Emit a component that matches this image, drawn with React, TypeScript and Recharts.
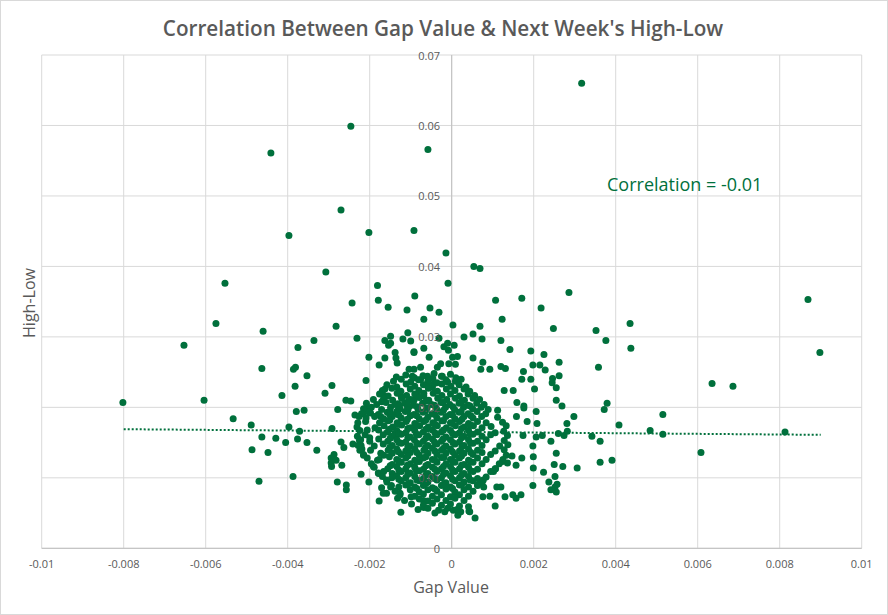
import { ScatterChart, Scatter, XAxis, YAxis, CartesianGrid, ReferenceLine } from 'recharts';

const GREEN = '#00703C';
const TEXT = '#595959';

const gapTicks = [-0.01, -0.008, -0.006, -0.004, -0.002, 0, 0.002, 0.004, 0.006, 0.008, 0.01];
const highLowTicks = [0, 0.01, 0.02, 0.03, 0.04, 0.05, 0.06, 0.07];

// sparse points around the cloud, read one by one: [gap value, high-low]
const outerPoints: [number, number][] = [
  [0.00317, 0.066], [-0.00246, 0.0599], [-0.00441, 0.0561], [-0.00058, 0.0566], [-0.0027, 0.048],
  [-0.00397, 0.0444], [-0.00202, 0.0448], [-0.00092, 0.0451], [-0.00014, 0.0419], [-0.00307, 0.0392],
  [0.00054, 0.04], [0.00069, 0.0397], [-0.00553, 0.0376], [-0.00181, 0.0373], [-0.00009, 0.0376],
  [0.00286, 0.0363], [-0.0009, 0.0358], [-0.00179, 0.0352], [0.00107, 0.0352], [0.00171, 0.0355],
  [-0.00575, 0.0319], [-0.0046, 0.0308], [-0.00653, 0.0288], [-0.00375, 0.0285], [-0.00463, 0.0255],
  [-0.00386, 0.0254], [-0.00381, 0.0257], [-0.00382, 0.023], [-0.00414, 0.0217], [-0.00802, 0.0207],
  [-0.00604, 0.021], [-0.00379, 0.0194], [-0.00533, 0.0184], [-0.00489, 0.0175], [-0.00397, 0.0172],
  [-0.00371, 0.0166], [-0.00463, 0.0158], [-0.00429, 0.0156], [-0.00405, 0.015], [-0.00376, 0.0155],
  [-0.00487, 0.014], [-0.00448, 0.0136], [-0.0047, 0.0095], [-0.00387, 0.0102],
  [0.00869, 0.0353], [0.00898, 0.0278], [0.00352, 0.0309], [0.00435, 0.0319], [0.00376, 0.0295],
  [0.00437, 0.0284], [0.00358, 0.0257], [0.00635, 0.0234], [0.00686, 0.023], [0.00379, 0.0206],
  [0.00372, 0.0197], [0.00515, 0.019], [0.00408, 0.0175], [0.00484, 0.0167], [0.00515, 0.0162],
  [0.00813, 0.0165], [0.00342, 0.0159], [0.00362, 0.0152], [0.00608, 0.0136], [0.00391, 0.0125],
  [0.00362, 0.0122],
  [0.00218, 0.0341], [0.00123, 0.0325], [0.00069, 0.0315], [0.00248, 0.0312], [0.00003, 0.0317],
  [0.0012, 0.0295], [0.00052, 0.0304], [0.00074, 0.0297], [0.0003, 0.03], [0.00142, 0.0282],
  [0.00193, 0.028], [0.00225, 0.0275], [0.00262, 0.0264], [0.00198, 0.026], [0.00215, 0.026],
  [0.00228, 0.0253], [0.00175, 0.0251], [0.00262, 0.0245], [0.00246, 0.0241], [0.00245, 0.0235],
  [0.00255, 0.0228], [0.00171, 0.024], [0.00193, 0.024], [0.00202, 0.0226], [0.00128, 0.0224],
  [0.0015, 0.0224], [0.00093, 0.0254], [0.00071, 0.0254], [0.0012, 0.0258], [0.00131, 0.0255],
  [0.00076, 0.0264], [0.00052, 0.027], [0.00009, 0.0261], [0.00255, 0.021], [0.00269, 0.0202],
  [0.00298, 0.0187], [0.00281, 0.0177], [0.00206, 0.0194], [0.00208, 0.0177], [0.00176, 0.0202],
  [0.00176, 0.0199], [0.00159, 0.0207], [0.00184, 0.018], [0.00158, 0.0187], [0.0026, 0.0163],
  [0.00274, 0.016], [0.00282, 0.0166], [0.00221, 0.016], [0.00206, 0.0158], [0.00174, 0.016],
  [0.00242, 0.0152], [0.00198, 0.0145], [0.00255, 0.0135], [0.00199, 0.013], [0.0025, 0.0119],
  [0.00271, 0.0116], [0.00306, 0.0114], [0.00199, 0.0114], [0.00224, 0.0108], [0.00252, 0.0102],
  [0.00237, 0.0094], [0.00257, 0.0091], [0.00242, 0.0083], [0.00255, 0.008], [0.00252, 0.0087],
  [0.00198, 0.0089], [0.00171, 0.0128], [0.00157, 0.0118], [0.00147, 0.0131], [0.00124, 0.0123],
  [0.00136, 0.0121], [0.0011, 0.0087], [0.0012, 0.0087], [0.00076, 0.0073], [0.00093, 0.0074],
  [0.0013, 0.0073], [0.00149, 0.0076], [0.00157, 0.0071], [0.00169, 0.0076], [0.00106, 0.006],
  [0.00057, 0.0043], [0.00041, 0.0059], [0.00044, 0.0052], [0.00018, 0.0051], [0.00004, 0.0054],
  [0.00015, 0.0047], [0.00022, 0.0052], [0.00042, 0.0053], [0.00077, 0.0097], [0.00071, 0.0094],
  [0.00063, 0.009], [0.00102, 0.0109], [0.00107, 0.0113],
  [-0.00279, 0.0094], [-0.00257, 0.009], [-0.00257, 0.0083], [-0.00294, 0.0121], [-0.00293, 0.0116],
  [-0.00268, 0.0118], [-0.00221, 0.0105], [-0.00202, 0.0094], [-0.00177, 0.0067], [-0.00124, 0.0051],
  [-0.00132, 0.0071], [-0.00099, 0.0073], [-0.00069, 0.0068], [-0.00068, 0.0058], [-0.00041, 0.005],
  [-0.00017, 0.0052], [-0.00159, 0.0078], [-0.00167, 0.0078], [-0.00171, 0.0086],
  [-0.00243, 0.0348], [-0.00155, 0.0342], [-0.00109, 0.0338], [-0.00053, 0.0341], [-0.00031, 0.0335],
  [-0.00068, 0.0325], [-0.00282, 0.0315], [-0.00336, 0.0295], [-0.00231, 0.0298], [-0.00107, 0.0306],
  [-0.00163, 0.0295], [-0.00149, 0.0301], [-0.00154, 0.0288], [-0.00149, 0.0291], [-0.00119, 0.0297],
  [-0.001, 0.0294], [-0.00092, 0.0278], [-0.00138, 0.0278], [-0.00136, 0.027], [-0.00133, 0.0263],
  [-0.00202, 0.0271], [-0.00177, 0.026], [-0.00163, 0.027], [-0.00353, 0.0245], [-0.00309, 0.022],
  [-0.00292, 0.0231], [-0.00209, 0.0238], [-0.00258, 0.021], [-0.00246, 0.0209], [-0.00278, 0.0197],
  [-0.0036, 0.0196], [-0.00236, 0.0189], [-0.00292, 0.017], [-0.00353, 0.015], [-0.00329, 0.0139],
  [-0.0027, 0.0151], [-0.00263, 0.0143], [-0.00241, 0.0148], [-0.00287, 0.0133], [-0.00294, 0.0128],
  [-0.00282, 0.0125], [-0.00221, 0.0146], [-0.00225, 0.0153], [-0.00224, 0.0139], [-0.00215, 0.0132],
  [-0.00214, 0.0193], [-0.00204, 0.0199], [-0.00196, 0.02], [-0.00198, 0.0192], [-0.0021, 0.018],
  [-0.00206, 0.0168], [-0.002, 0.0157], [-0.00171, 0.0208], [-0.00165, 0.0217], [-0.00163, 0.0226],
  [-0.00173, 0.0187], [-0.00151, 0.019], [-0.00133, 0.0195], [-0.00131, 0.0205], [-0.00123, 0.0215],
  [-0.00138, 0.0163], [-0.00135, 0.016], [-0.00181, 0.0125], [-0.00173, 0.0135], [-0.00191, 0.0116],
  [-0.00178, 0.0106], [-0.00159, 0.0097], [-0.00149, 0.0087], [-0.00126, 0.0078], [-0.00108, 0.0201],
  [-0.00092, 0.021], [-0.00084, 0.0218], [-0.00068, 0.022], [-0.00076, 0.0239], [-0.00059, 0.0244],
  [-0.00043, 0.0248], [-0.00035, 0.0257], [-0.00027, 0.0262], [-0.00096, 0.0244], [-0.00076, 0.0257],
  [-0.00092, 0.0254], [-0.00059, 0.0234], [-0.00043, 0.0234], [-0.00023, 0.0244], [-0.0001, 0.0236],
  [-0.00007, 0.0262], [0.00002, 0.0271], [-0.00008, 0.0281], [0.00014, 0.0272], [0.00006, 0.0288],
  [-0.00055, 0.0271], [-0.00104, 0.0254], [-0.00068, 0.0284], [-0.00092, 0.0279], [-0.00031, 0.0298],
  [-0.00019, 0.0286], [-0.0001, 0.0291],
];

// the dense middle of the cloud, estimated row by row from top to bottom
const clusterPoints: [number, number][] = [
  [-0.00135, 0.0243], [-0.00112, 0.0246], [-0.00091, 0.0242], [-0.0007, 0.0245], [-0.00046, 0.0241], [-0.00025, 0.0244], [-0.00003, 0.0247], [0.0001, 0.0242],
  [-0.00142, 0.0237], [-0.00123, 0.024], [-0.001, 0.0236], [-0.00081, 0.0239], [-0.00058, 0.0238], [-0.00036, 0.0235], [-0.00014, 0.0239], [0.00009, 0.0237], [0.00023, 0.024],
  [-0.00158, 0.0232], [-0.00134, 0.0229], [-0.00111, 0.0233], [-0.0009, 0.023], [-0.00069, 0.0232], [-0.00047, 0.0229], [-0.00024, 0.0233], [-0.00002, 0.023], [0.00018, 0.0232], [0.00035, 0.0229],
  [-0.00169, 0.0224], [-0.00146, 0.0227], [-0.00124, 0.0223], [-0.00101, 0.0226], [-0.0008, 0.0224], [-0.00057, 0.0227], [-0.00035, 0.0223], [-0.00013, 0.0226], [0.00008, 0.0224], [0.0003, 0.0226], [0.00044, 0.0223],
  [-0.00176, 0.0219], [-0.00155, 0.0216], [-0.00133, 0.022], [-0.0011, 0.0217], [-0.0009, 0.0219], [-0.00068, 0.0216], [-0.00045, 0.022], [-0.00024, 0.0217], [-0.00003, 0.0219], [0.00019, 0.0216], [0.0004, 0.0219], [0.00056, 0.0217],
  [-0.00191, 0.0211], [-0.00166, 0.0213], [-0.00144, 0.021], [-0.00122, 0.0213], [-0.001, 0.0211], [-0.00079, 0.0214], [-0.00056, 0.021], [-0.00034, 0.0213], [-0.00012, 0.0211], [0.00009, 0.0213], [0.00031, 0.021], [0.00052, 0.0213], [0.00068, 0.0211],
  [-0.00208, 0.0206], [-0.00183, 0.0204], [-0.0016, 0.0207], [-0.00138, 0.0204], [-0.00115, 0.0206], [-0.00093, 0.0203], [-0.00071, 0.0206], [-0.00049, 0.0204], [-0.00026, 0.0207], [-0.00005, 0.0204], [0.00018, 0.0206], [0.0004, 0.0203], [0.00061, 0.0206], [0.00079, 0.0204],
  [-0.00215, 0.0198], [-0.00171, 0.0197], [-0.00149, 0.02], [-0.00126, 0.0198], [-0.00104, 0.0201], [-0.00082, 0.0197], [-0.0006, 0.0199], [-0.00037, 0.0198], [-0.00015, 0.02], [0.00007, 0.0197], [0.00029, 0.02], [0.00051, 0.0198], [0.00072, 0.02], [0.00089, 0.0197],
  [-0.0022, 0.0191], [-0.00201, 0.0193], [-0.00179, 0.019], [-0.00157, 0.0193], [-0.00136, 0.0191], [-0.00113, 0.0194], [-0.00092, 0.019], [-0.0007, 0.0193], [-0.00048, 0.0191], [-0.00026, 0.0193], [-0.00004, 0.019], [0.00018, 0.0193], [0.0004, 0.0191], [0.00062, 0.0194], [0.00083, 0.0191], [0.00112, 0.0196],
  [-0.00226, 0.0187], [-0.00209, 0.0185], [-0.00188, 0.0187], [-0.00166, 0.0184], [-0.00145, 0.0187], [-0.00123, 0.0185], [-0.00101, 0.0188], [-0.00079, 0.0184], [-0.00058, 0.0186], [-0.00036, 0.0185], [-0.00014, 0.0187], [0.00008, 0.0184], [0.0003, 0.0187], [0.00052, 0.0185], [0.00073, 0.0187], [0.00112, 0.0186],
  [-0.00229, 0.0178], [-0.00176, 0.0178], [-0.00155, 0.0181], [-0.00133, 0.0178], [-0.00111, 0.018], [-0.0009, 0.0177], [-0.00068, 0.018], [-0.00046, 0.0178], [-0.00024, 0.0181], [-0.00003, 0.0178], [0.00019, 0.018], [0.00041, 0.0177], [0.00063, 0.018], [0.00084, 0.0178], [0.00124, 0.0179],
  [-0.00231, 0.0172], [-0.00187, 0.0171], [-0.00165, 0.0174], [-0.00144, 0.0172], [-0.00122, 0.0175], [-0.001, 0.0171], [-0.00078, 0.0174], [-0.00057, 0.0172], [-0.00035, 0.0174], [-0.00013, 0.0171], [0.00009, 0.0174], [0.00031, 0.0172], [0.00053, 0.0174], [0.00074, 0.0171], [0.00096, 0.0173], [0.00133, 0.0174],
  [-0.00224, 0.0167], [-0.00178, 0.0168], [-0.00156, 0.0165], [-0.00134, 0.0167], [-0.00112, 0.0164], [-0.0009, 0.0167], [-0.00069, 0.0165], [-0.00047, 0.0168], [-0.00025, 0.0165], [-0.00003, 0.0167], [0.00019, 0.0164], [0.00041, 0.0167], [0.00063, 0.0165], [0.00106, 0.0164], [0.00127, 0.0166],
  [-0.0023, 0.0159], [-0.00211, 0.0161], [-0.00167, 0.0161], [-0.00145, 0.0159], [-0.00123, 0.0162], [-0.00101, 0.0158], [-0.0008, 0.0161], [-0.00058, 0.0159], [-0.00036, 0.0161], [-0.00014, 0.0158], [0.00008, 0.0161], [0.0003, 0.0159], [0.00052, 0.0162], [0.00074, 0.0159], [0.00095, 0.0161], [0.00136, 0.016],
  [-0.00222, 0.0154], [-0.002, 0.0152], [-0.00178, 0.0155], [-0.00156, 0.0152], [-0.00134, 0.0154], [-0.00112, 0.0151], [-0.00091, 0.0154], [-0.00069, 0.0152], [-0.00047, 0.0155], [-0.00025, 0.0152], [-0.00003, 0.0154], [0.00019, 0.0151], [0.00041, 0.0154], [0.00063, 0.0152], [0.00084, 0.0154], [0.00128, 0.0153],
  [-0.00228, 0.0146], [-0.00189, 0.0145], [-0.00167, 0.0148], [-0.00145, 0.0146], [-0.00123, 0.0149], [-0.00101, 0.0145], [-0.00079, 0.0148], [-0.00058, 0.0146], [-0.00036, 0.0148], [-0.00014, 0.0145], [0.00008, 0.0148], [0.0003, 0.0146], [0.00052, 0.0149], [0.00074, 0.0146], [0.00117, 0.0145], [0.00137, 0.0147],
  [-0.00219, 0.0141], [-0.00198, 0.0139], [-0.00155, 0.0139], [-0.00134, 0.0141], [-0.00112, 0.0138], [-0.0009, 0.0141], [-0.00068, 0.0139], [-0.00047, 0.0142], [-0.00025, 0.0139], [-0.00003, 0.0141], [0.00019, 0.0138], [0.00041, 0.0141], [0.00063, 0.0139], [0.00106, 0.0138], [0.00128, 0.014],
  [-0.00215, 0.0133], [-0.00166, 0.0132], [-0.00145, 0.0135], [-0.00123, 0.0133], [-0.00101, 0.0136], [-0.00079, 0.0132], [-0.00058, 0.0135], [-0.00036, 0.0133], [-0.00014, 0.0135], [0.00008, 0.0132], [0.0003, 0.0135], [0.00052, 0.0133], [0.00074, 0.0136], [0.00095, 0.0133], [0.00133, 0.0132],
  [-0.00206, 0.0128], [-0.00177, 0.0126], [-0.00134, 0.0126], [-0.00112, 0.0128], [-0.0009, 0.0125], [-0.00069, 0.0128], [-0.00047, 0.0126], [-0.00025, 0.0129], [-0.00003, 0.0126], [0.00019, 0.0128], [0.00041, 0.0125], [0.00063, 0.0128], [0.00084, 0.0126], [0.00125, 0.0126],
  [-0.00196, 0.012], [-0.00145, 0.0119], [-0.00123, 0.0122], [-0.00101, 0.012], [-0.00079, 0.0123], [-0.00058, 0.0119], [-0.00036, 0.0122], [-0.00014, 0.012], [0.00008, 0.0122], [0.0003, 0.0119], [0.00052, 0.0122], [0.00074, 0.012], [0.00116, 0.012],
  [-0.00189, 0.0115], [-0.00156, 0.0113], [-0.00134, 0.0116], [-0.00112, 0.0113], [-0.0009, 0.0115], [-0.00069, 0.0112], [-0.00047, 0.0115], [-0.00025, 0.0113], [-0.00003, 0.0116], [0.00019, 0.0113], [0.00041, 0.0115], [0.00063, 0.0112], [0.00106, 0.0113],
  [-0.00179, 0.0107], [-0.00166, 0.0109], [-0.00145, 0.0106], [-0.00123, 0.0109], [-0.00101, 0.0107], [-0.00079, 0.011], [-0.00058, 0.0106], [-0.00036, 0.0109], [-0.00014, 0.0107], [0.00008, 0.0109], [0.0003, 0.0106], [0.00052, 0.0109], [0.00095, 0.0109],
  [-0.00169, 0.0102], [-0.00146, 0.01], [-0.00134, 0.0103], [-0.00112, 0.01], [-0.0009, 0.0102], [-0.00069, 0.0099], [-0.00047, 0.0102], [-0.00025, 0.01], [-0.00003, 0.0103], [0.00019, 0.01], [0.00041, 0.0102], [0.00063, 0.0099], [0.00084, 0.0101],
  [-0.00158, 0.0094], [-0.00123, 0.0096], [-0.00101, 0.0093], [-0.00079, 0.0096], [-0.00058, 0.0094], [-0.00036, 0.0097], [-0.00014, 0.0093], [0.00008, 0.0096], [0.0003, 0.0094], [0.00052, 0.0096], [0.00074, 0.0093],
  [-0.00147, 0.0089], [-0.00129, 0.0087], [-0.00112, 0.009], [-0.0009, 0.0087], [-0.00069, 0.0089], [-0.00047, 0.0086], [-0.00025, 0.0089], [-0.00003, 0.0087], [0.00019, 0.009], [0.00041, 0.0087], [0.00063, 0.0089], [0.00078, 0.0087],
  [-0.00138, 0.0081], [-0.00101, 0.0083], [-0.00079, 0.008], [-0.00058, 0.0083], [-0.00036, 0.0081], [-0.00014, 0.0084], [0.00008, 0.008], [0.0003, 0.0083], [0.00052, 0.0081],
  [-0.00126, 0.0076], [-0.0009, 0.0074], [-0.00069, 0.0077], [-0.00047, 0.0074], [-0.00025, 0.0076], [-0.00003, 0.0073], [0.00019, 0.0076], [0.00041, 0.0074],
  [-0.00115, 0.0068], [-0.00079, 0.007], [-0.00058, 0.0067], [-0.00036, 0.007], [-0.00014, 0.0068], [0.00008, 0.0071], [0.0003, 0.0068],
  [-0.00098, 0.0063], [-0.00069, 0.0061], [-0.00047, 0.0064], [-0.00025, 0.0061], [-0.00003, 0.0063], [0.00019, 0.006],
  [-0.00082, 0.0055], [-0.00058, 0.0057], [-0.00032, 0.0054], [-0.0001, 0.0057], [0.00013, 0.0055],
];

// the solid heart of the cloud (a little left of zero), between the rows above
const corePoints: [number, number][] = [
  [-0.00107, 0.0208], [-0.00062, 0.0209], [-0.00021, 0.0207], [0.00024, 0.0208],
  [-0.00128, 0.0202], [-0.00084, 0.0201], [-0.00042, 0.0203], [0.00003, 0.0201], [0.00045, 0.0202],
  [-0.0015, 0.0195], [-0.00107, 0.0196], [-0.00064, 0.0195], [-0.0002, 0.0196], [0.00023, 0.0194],
  [-0.00129, 0.0189], [-0.00085, 0.0188], [-0.00041, 0.019], [0.00002, 0.0189], [0.00047, 0.0188],
  [-0.00151, 0.0182], [-0.00108, 0.0183], [-0.00063, 0.0182], [-0.0002, 0.0181], [0.00025, 0.0183],
  [-0.0013, 0.0176], [-0.00086, 0.0175], [-0.00041, 0.0176], [0.00001, 0.0177], [0.00046, 0.0175],
  [-0.00152, 0.0169], [-0.00107, 0.017], [-0.00063, 0.0169], [-0.0002, 0.0168], [0.00024, 0.017],
  [-0.00129, 0.0163], [-0.00086, 0.0162], [-0.00041, 0.0164], [0.00002, 0.0163], [0.00045, 0.0162],
  [-0.0015, 0.0156], [-0.00107, 0.0157], [-0.00063, 0.0156], [-0.00021, 0.0155], [0.00024, 0.0157],
  [-0.00129, 0.015], [-0.00085, 0.0149], [-0.00042, 0.0151], [0.00003, 0.015], [0.00046, 0.0149],
  [-0.00151, 0.0143], [-0.00107, 0.0144], [-0.00064, 0.0143], [-0.0002, 0.0142], [0.00025, 0.0144],
  [-0.0013, 0.0137], [-0.00085, 0.0136], [-0.00041, 0.0138], [0.00002, 0.0137], [0.00047, 0.0136],
  [-0.00152, 0.013], [-0.00107, 0.0131], [-0.00063, 0.013], [-0.00019, 0.0129], [0.00024, 0.0131],
  [-0.00129, 0.0124], [-0.00085, 0.0123], [-0.00041, 0.0125], [0.00002, 0.0124], [0.00045, 0.0123],
  [-0.0015, 0.0117], [-0.00108, 0.0118], [-0.00063, 0.0117], [-0.0002, 0.0116], [0.00024, 0.0118],
  [-0.00129, 0.0111], [-0.00086, 0.011], [-0.00041, 0.0112], [0.00002, 0.0111], [0.00046, 0.011],
  [-0.00107, 0.0105], [-0.00063, 0.0104], [-0.0002, 0.0105], [0.00024, 0.0104],
  [-0.00129, 0.0098], [-0.00085, 0.0097], [-0.00042, 0.0099], [0.00002, 0.0098], [0.00045, 0.0097],
  [-0.00107, 0.0091], [-0.00063, 0.0092], [-0.0002, 0.0091], [0.00024, 0.009],
  [-0.00085, 0.0085], [-0.00041, 0.0084], [0.00002, 0.0085],
];

// linear trendline end points
const trendPoints: [number, number][] = [[-0.008, 0.0169], [0.009, 0.0161]];

const toRows = (pts: [number, number][]) => pts.map(([gap, hl]) => ({ gap, hl }));
const scatterData = toRows([...outerPoints, ...clusterPoints, ...corePoints]);
const trendData = toRows(trendPoints);

const FONT = "'Open Sans', 'Noto Sans', sans-serif";
const CHART_W = 886;
const CHART_H = 613;
const MARGIN = { top: 54, right: 25.3, bottom: 35.7, left: 39.7 };

const Dot = (props: any) => <circle cx={props.cx} cy={props.cy} r={3.5} fill={GREEN} />;

const YTick = (props: any) => (
  <text
    x={439}
    y={props.y}
    textAnchor="end"
    dominantBaseline="central"
    fill={TEXT}
    fillOpacity={props.hidden ? 0 : 1}
    fontSize={11}
    fontFamily={FONT}
  >
    {props.payload.value}
  </text>
);

const XTick = (props: any) => (
  <text x={props.x} y={562} textAnchor="middle" dominantBaseline="central" fill={TEXT} fontSize={11} fontFamily={FONT}>
    {props.payload.value}
  </text>
);

const abs = (left: number, top: number): React.CSSProperties => ({
  position: 'absolute',
  left,
  top,
  transform: 'translate(-50%, -50%)',
  whiteSpace: 'nowrap',
  lineHeight: 1,
  fontFamily: FONT,
});

const valueAxis = (hidden: boolean) => (
  <YAxis
    type="number"
    dataKey="hl"
    domain={[0, 0.07]}
    ticks={highLowTicks}
    width={1}
    tickLine={false}
    axisLine={false}
    tick={<YTick hidden={hidden} />}
    interval={0}
    allowDataOverflow
  />
);

export default function App() {
  return (
    <div
      style={{
        position: 'absolute',
        left: 0,
        top: 0,
        width: 888,
        height: 615,
        boxSizing: 'border-box',
        border: '1px solid #d9d9d9',
        background: '#fff',
      }}
    >
      <ScatterChart width={CHART_W} height={CHART_H} margin={MARGIN}>
        <CartesianGrid stroke="#d9d9d9" />
        <XAxis
          type="number"
          dataKey="gap"
          domain={[-0.01, 0.01]}
          ticks={gapTicks}
          height={30}
          tickLine={false}
          axisLine={{ stroke: '#bfbfbf' }}
          tick={<XTick />}
          allowDataOverflow
        />
        {valueAxis(true)}
        <ReferenceLine x={0} stroke="#bfbfbf" />
        <Scatter data={scatterData} shape={<Dot />} isAnimationActive={false} />
        <Scatter
          data={trendData}
          line={{ stroke: GREEN, strokeWidth: 2, strokeDasharray: '2 2' }}
          shape={() => <g />}
          isAnimationActive={false}
        />
      </ScatterChart>

      {/* second, empty chart on top: only the y labels, so they sit over the points like in Excel */}
      <div style={{ position: 'absolute', left: 0, top: 0, pointerEvents: 'none', zIndex: 2 }}>
        <ScatterChart width={CHART_W} height={CHART_H} margin={MARGIN}>
          <XAxis type="number" dataKey="gap" domain={[-0.01, 0.01]} ticks={gapTicks} height={30} tick={false} axisLine={false} tickLine={false} />
          {valueAxis(false)}
          <Scatter data={[]} isAnimationActive={false} />
        </ScatterChart>
      </div>

      <div style={{ ...abs(442, 27), fontSize: 20.7, fontWeight: 600, color: TEXT }}>
        Correlation Between Gap Value &amp; Next Week's High-Low
      </div>
      <div style={{ ...abs(450, 586), fontSize: 16, color: TEXT }}>Gap Value</div>
      <div style={{ ...abs(28, 302), fontSize: 16, color: TEXT, transform: 'translate(-50%, -50%) rotate(-90deg)' }}>
        High-Low
      </div>
      <div style={{ ...abs(0, 183), left: 606, transform: 'translateY(-50%)', fontSize: 18, color: GREEN }}>
        Correlation = -0.01
      </div>
    </div>
  );
}
